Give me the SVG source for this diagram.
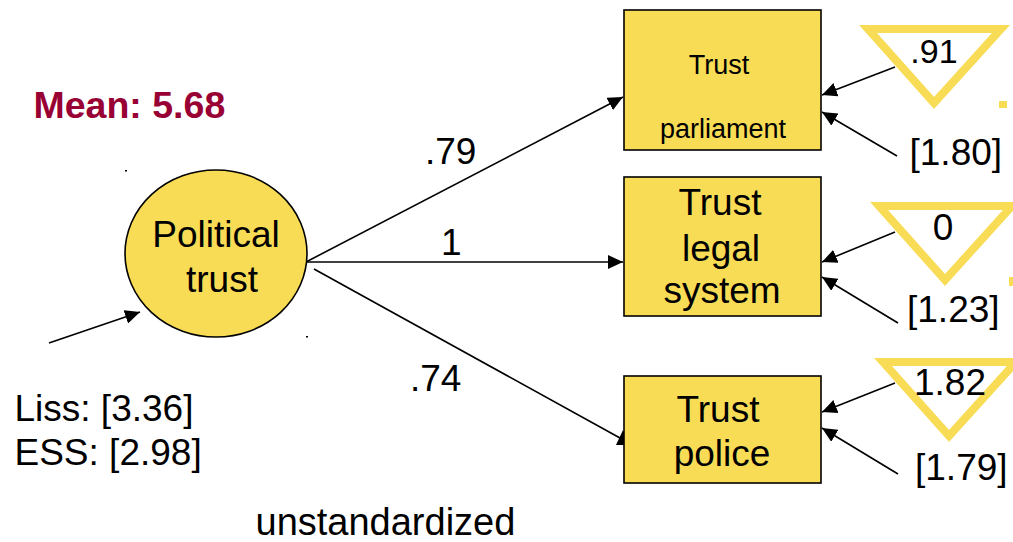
<svg xmlns="http://www.w3.org/2000/svg" width="1013" height="542" viewBox="0 0 1013 542">
  <style>
    text { font-family: "Liberation Sans", Arial, sans-serif; fill: #000; }
    .big { font-size: 37px; }
    .small { font-size: 27px; }
    .mid { text-anchor: middle; }
    .mean { font-size: 37.5px; font-weight: bold; fill: #990033; }
    .node { fill: #F8DC55; stroke: #000; stroke-width: 1.6; }
    .err { fill: #fff; stroke: #F8DC55; stroke-width: 8; stroke-linejoin: miter; }
    .edge { fill: none; stroke: #000; stroke-width: 1.6; marker-end: url(#head); }
    .speck { fill: #000; }
    .mark { fill: #F8DC55; }
  </style>
  <defs>
    <marker id="head" viewBox="0 0 15 14" refX="15" refY="7" markerWidth="15" markerHeight="14" markerUnits="userSpaceOnUse" orient="auto">
      <path d="M0,0 L15,7 L0,14 z" fill="#000"/>
    </marker>
    <marker id="head-up" viewBox="0 0 15 14" refX="7" refY="4" markerWidth="15" markerHeight="14" markerUnits="userSpaceOnUse" orient="-90" overflow="visible">
      <path d="M0,0 L15,7 L0,14 z" fill="#000"/>
    </marker>
  </defs>

  <rect width="1013" height="542" fill="#fff"/>

  <!-- headline -->
  <text class="mean" x="33.5" y="118">Mean: 5.68</text>

  <!-- connectors -->
  <g id="connectors">
    <path class="edge" d="M49,343 L140,312"/>
    <path class="edge" d="M306,262 L623,97"/>
    <path class="edge" d="M306,262 L623,262"/>
    <path class="edge" style="marker-end:url(#head-up)" d="M314,269 L620,438"/>
    <path class="edge" d="M895,67 L822,95"/>
    <path class="edge" d="M897,156 L822,112"/>
    <path class="edge" d="M895,232 L822,262"/>
    <path class="edge" d="M898,323 L822,277"/>
    <path class="edge" d="M895,383 L822,412"/>
    <path class="edge" d="M898,474 L822,428"/>
  </g>

  <!-- path coefficients -->
  <g id="edge-labels">
    <text class="big" x="425" y="164">.79</text>
    <text class="big" x="441" y="255">1</text>
    <text class="big" x="410" y="391">.74</text>
  </g>

  <!-- latent factor -->
  <g id="political-trust">
    <ellipse class="node" cx="216" cy="253.5" rx="91" ry="83.5"/>
    <text class="big mid" x="216" y="247">Political</text>
    <text class="big mid" x="222" y="292">trust</text>
    <rect class="speck" x="125" y="170" width="2" height="1.5"/>
    <rect class="speck" x="306" y="336" width="2" height="1.5"/>
  </g>

  <g id="factor-variance">
    <text class="big" x="14.5" y="421">Liss: [3.36]</text>
    <text class="big" x="14.5" y="465">ESS: [2.98]</text>
  </g>

  <!-- indicators -->
  <g id="trust-parliament">
    <rect class="node" x="624" y="10" width="197" height="140"/>
    <text class="small mid" x="719" y="74">Trust</text>
    <text class="small mid" x="723" y="138">parliament</text>
  </g>

  <g id="trust-legal-system">
    <rect class="node" x="624" y="177" width="197" height="139"/>
    <text class="big mid" x="720" y="215">Trust</text>
    <text class="big mid" x="721" y="261">legal</text>
    <text class="big mid" x="722" y="303">system</text>
  </g>

  <g id="trust-police">
    <rect class="node" x="624" y="376" width="197" height="107"/>
    <text class="big mid" x="718" y="422">Trust</text>
    <text class="big mid" x="722" y="466">police</text>
  </g>

  <!-- intercepts -->
  <g id="intercept-parliament">
    <polygon class="err" points="868,29 1001,29 934,103"/>
    <text class="big mid" x="934" y="63" style="font-size:34px">.91</text>
    <rect class="mark" x="999" y="101" width="8" height="7"/>
  </g>

  <g id="intercept-legal">
    <polygon class="err" points="879,206 1012,206 945,280"/>
    <text class="big mid" x="943" y="240">0</text>
    <rect class="mark" x="1009" y="277" width="4" height="9"/>
  </g>

  <g id="intercept-police">
    <polygon class="err" points="883,362 1016,362 949,436"/>
    <text class="big mid" x="950" y="395">1.82</text>
  </g>

  <!-- residual variances -->
  <g id="residuals">
    <text class="big" x="909.5" y="165">[1.80]</text>
    <text class="big" x="907" y="322">[1.23]</text>
    <text class="big" x="915" y="480">[1.79]</text>
  </g>

  <text class="big" x="255.5" y="535" style="font-size:38px">unstandardized</text>
</svg>
